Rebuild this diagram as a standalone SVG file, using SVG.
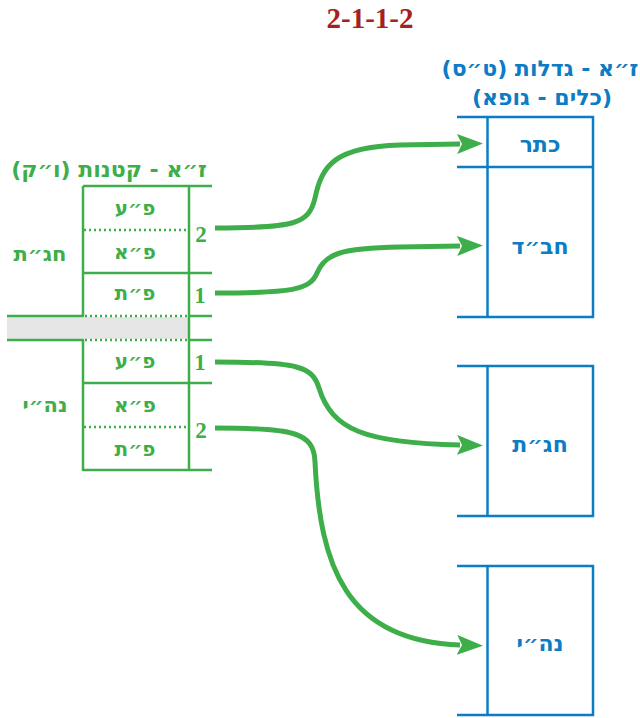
<svg xmlns="http://www.w3.org/2000/svg" width="640" height="718" viewBox="0 0 640 718">
<defs>
<style>
.g{stroke:#3eae4a;stroke-width:2.5;fill:none}
.gd{stroke:#3eae4a;stroke-width:2.5;fill:none;stroke-dasharray:2 3}
.b{stroke:#0b7cc5;stroke-width:2.5;fill:none}
.arr{stroke:#3eae4a;stroke-width:5;fill:none;stroke-linecap:butt}
.tg{font-family:"DejaVu Sans","Liberation Serif",sans-serif;font-weight:bold;fill:#3eae4a;text-anchor:middle}
.tb{font-family:"DejaVu Sans","Liberation Serif",sans-serif;font-weight:bold;fill:#0b7cc5;text-anchor:middle}
.num{font-family:"Liberation Serif",serif;font-weight:bold;fill:#3eae4a;text-anchor:middle}
</style>
<marker id="ah" markerWidth="28" markerHeight="22" refX="3" refY="10" orient="auto" markerUnits="userSpaceOnUse">
<path d="M0,0 L26,10 L0,20 L5,10 Z" fill="#3eae4a"/>
</marker>
</defs>
<rect width="640" height="718" fill="#ffffff"/>
<text x="370" y="28" font-family="Liberation Serif,serif" font-weight="bold" font-size="29" fill="#a51f24" text-anchor="middle">2-1-1-2</text>

<g id="title-gadlut">
<text class="tb" x="540" y="76" font-size="22" direction="rtl">ז״א - גדלות (ט״ס)</text>
<text class="tb" x="542" y="105" font-size="22" direction="rtl">(כלים - גופא)</text>
</g>

<g id="title-katnut">
<text class="tg" x="109" y="177" font-size="22" direction="rtl">ז״א - קטנות (ו״ק)</text>
</g>

<g id="green-table">
<rect x="7" y="317" width="181" height="22" fill="#e6e6e6"/>
<line class="g" x1="83" y1="186" x2="212" y2="186"/>
<line class="gd" x1="84" y1="230" x2="188" y2="230"/>
<line class="g" x1="83" y1="273" x2="212" y2="273"/>
<line class="g" x1="7" y1="316" x2="83" y2="316"/>
<line class="gd" x1="85" y1="316" x2="188" y2="316"/>
<line class="g" x1="189" y1="316" x2="212" y2="316"/>
<line class="g" x1="7" y1="340" x2="83" y2="340"/>
<line class="gd" x1="85" y1="340" x2="188" y2="340"/>
<line class="g" x1="189" y1="340" x2="212" y2="340"/>
<line class="g" x1="83" y1="383" x2="212" y2="383"/>
<line class="gd" x1="84" y1="427" x2="188" y2="427"/>
<line class="g" x1="83" y1="470" x2="212" y2="470"/>
<line class="g" x1="83" y1="186" x2="83" y2="317"/>
<line class="g" x1="83" y1="339" x2="83" y2="471"/>
<line class="g" x1="189" y1="186" x2="189" y2="471"/>
</g>

<g id="row-labels">
<text class="tg" x="135" y="215" font-size="20" direction="rtl">פ״ע</text>
<text class="tg" x="135" y="259" font-size="20" direction="rtl">פ״א</text>
<text class="tg" x="135" y="300" font-size="20" direction="rtl">פ״ת</text>
<text class="tg" x="135" y="368" font-size="20" direction="rtl">פ״ע</text>
<text class="tg" x="135" y="412" font-size="20" direction="rtl">פ״א</text>
<text class="tg" x="135" y="456" font-size="20" direction="rtl">פ״ת</text>
</g>

<g id="side-labels">
<text class="tg" x="40" y="261" font-size="21" direction="rtl">חג״ת</text>
<text class="tg" x="45" y="412" font-size="21" direction="rtl">נה״י</text>
</g>

<g id="numbers">
<text class="num" x="201" y="242" font-size="23">2</text>
<text class="num" x="200" y="303" font-size="23">1</text>
<text class="num" x="200" y="370" font-size="23">1</text>
<text class="num" x="201" y="438" font-size="23">2</text>
</g>

<g id="box-keter-chabad">
<line class="b" x1="457" y1="117" x2="594" y2="117"/>
<line class="b" x1="457" y1="167" x2="593" y2="167"/>
<line class="b" x1="457" y1="317" x2="594" y2="317"/>
<line class="b" x1="487.5" y1="117" x2="487.5" y2="318"/>
<line class="b" x1="593" y1="116" x2="593" y2="318"/>
<text class="tb" x="540" y="152" font-size="22" direction="rtl">כתר</text>
<text class="tb" x="540" y="254" font-size="22" direction="rtl">חב״ד</text>
</g>

<g id="box-chagat">
<line class="b" x1="457" y1="366" x2="594" y2="366"/>
<line class="b" x1="457" y1="516" x2="594" y2="516"/>
<line class="b" x1="487.5" y1="366" x2="487.5" y2="517"/>
<line class="b" x1="593" y1="365" x2="593" y2="517"/>
<text class="tb" x="540" y="452" font-size="22" direction="rtl">חג״ת</text>
</g>

<g id="box-nehi">
<line class="b" x1="457" y1="566" x2="594" y2="566"/>
<line class="b" x1="457" y1="715" x2="594" y2="715"/>
<line class="b" x1="487.5" y1="566" x2="487.5" y2="716"/>
<line class="b" x1="593" y1="565" x2="593" y2="716"/>
<text class="tb" x="540" y="651" font-size="22" direction="rtl">נה״י</text>
</g>

<g id="connectors">
<path class="arr" marker-end="url(#ah)" d="M215,228 C295,228 309,224 315,198 C322,165 335,147 400,145 L460,144"/>
<path class="arr" marker-end="url(#ah)" d="M215,293 C292,293 310,290 317,273 C325,254 340,248 400,247 L460,246"/>
<path class="arr" marker-end="url(#ah)" d="M215,362 C298,362 312,366 319,388 C332,430 365,443 460,445"/>
<path class="arr" marker-end="url(#ah)" d="M215,428 C293,428 314,432 315,462 C320,565 345,641 460,645"/>
</g>
</svg>
